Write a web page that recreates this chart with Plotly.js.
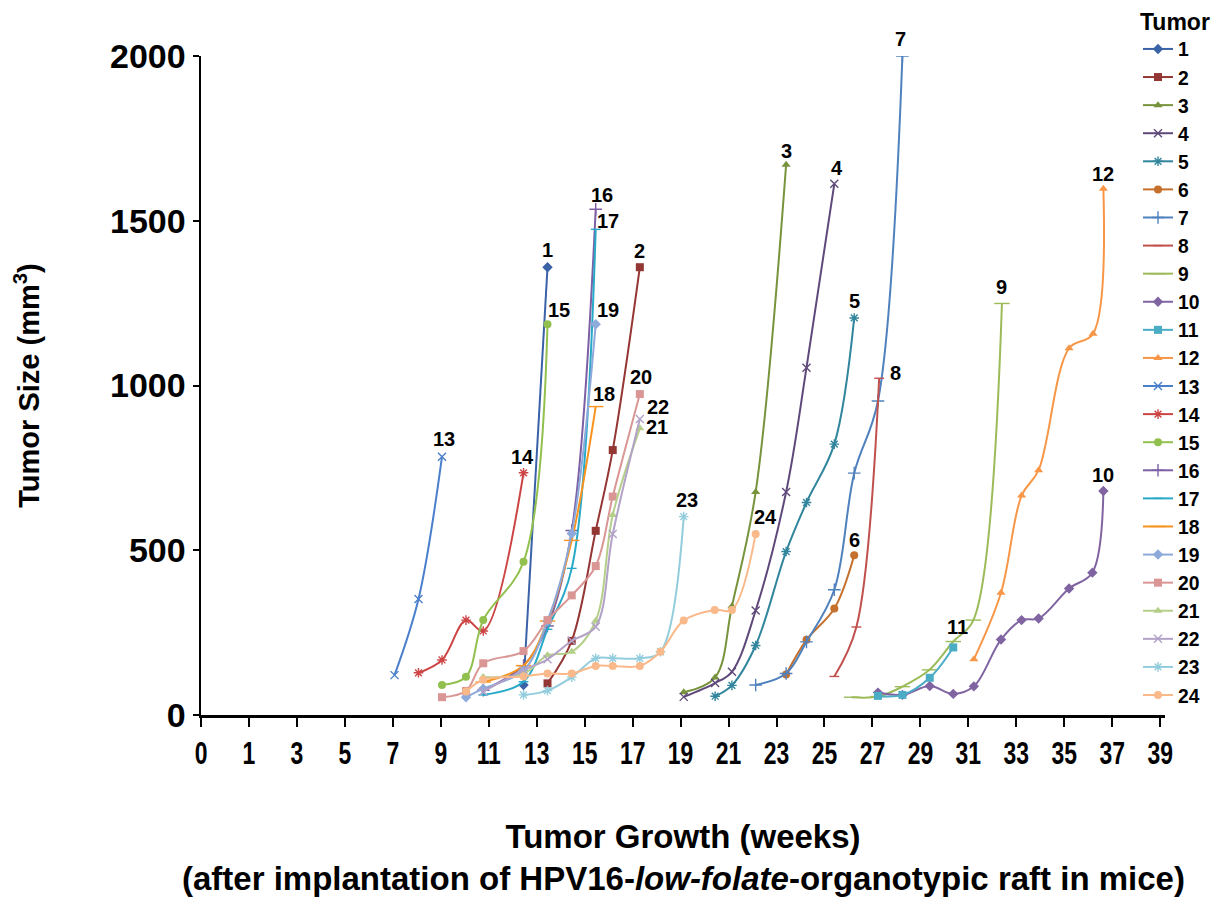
<!DOCTYPE html>
<html>
<head>
<meta charset="utf-8">
<script src="https://cdn.plot.ly/plotly-3.0.1.min.js"></script>
<style>html,body{margin:0;padding:0;background:#fff;}#chart{width:1232px;height:897px;}</style>
</head>
<body>
<div id="chart"></div>
<script>
// x tick positions (weeks) and the printed tick labels
const tickWeeks = [-1,1,3,5,7,9,11,13,15,17,19,21,23,25,27,29,31,33,35,37,39];
const tickLabels = ['0','1','3','5','7','9','11','13','15','17','19','21','23','25','27','29','31','33','35','37','39'];
const yTicks = [0, 500, 1000, 1500, 2000];

const tumorNames = ['1','2','3','4','5','6','7','8','9','10','11','12','13','14','15','16','17','18','19','20','21','22','23','24'];

const x1 = [12.45, 13.45];               const y1 = [91, 1359];
const x2 = [13.45, 14.46, 15.46, 16.17, 17.30]; const y2 = [96, 225, 559, 804, 1359];
const x3 = [19.13, 20.44, 21.14, 22.13, 23.40]; const y3 = [69, 114, 330, 677, 1670];
const x4 = [19.13, 20.44, 21.14, 22.13, 23.40, 24.25, 25.41]; const y4 = [55, 97, 131, 317, 677, 1054, 1612];
const x5 = [20.44, 21.14, 22.13, 23.40, 24.25, 25.41, 26.24]; const y5 = [57, 90, 211, 496, 645, 822, 1205];
const x6 = [23.40, 24.25, 25.41, 26.24];  const y6 = [123, 228, 323, 485];
const x7 = [22.13, 23.40, 24.25, 25.41, 26.24, 27.23, 28.25]; const y7 = [91, 126, 222, 380, 734, 953, 2000];
const x8 = [25.41, 26.33, 27.28];         const y8 = [117, 267, 1022];
const x9 = [26.13, 27.23, 28.25, 29.38, 30.37, 31.21, 32.40]; const y9 = [54, 56, 86, 137, 223, 288, 1249];
const x10 = [27.23, 28.25, 29.39, 30.37, 31.23, 32.36, 33.22, 33.93, 35.20, 36.17, 36.63];
const y10 = [68, 61, 88, 64, 87, 229, 288, 293, 384, 432, 680];
const x11 = [27.23, 28.25, 29.39, 30.37];  const y11 = [58, 61, 113, 205];
const x12 = [31.23, 32.36, 33.22, 33.93, 35.20, 36.20, 36.63]; const y12 = [169, 371, 666, 743, 1113, 1157, 1597];
const x13 = [7.07, 8.07, 9.05];            const y13 = [121, 352, 784];
const x14 = [8.07, 9.05, 10.05, 10.77, 12.45]; const y14 = [128, 167, 288, 255, 735];
const x15 = [9.05, 10.05, 10.77, 12.45, 13.45]; const y15 = [91, 116, 288, 465, 1186];
const x16 = [10.77, 12.45, 13.45, 14.46, 15.46]; const y16 = [75, 150, 270, 560, 1535];
const x17 = [10.77, 12.45, 13.45, 14.46, 15.46]; const y17 = [61, 101, 260, 445, 1474];
const x18 = [10.77, 12.45, 13.45, 14.46, 15.46]; const y18 = [100, 150, 285, 530, 936];
const x19 = [10.05, 10.77, 12.45, 13.45, 14.46, 15.46]; const y19 = [54, 80, 135, 285, 551, 1186];
const x20 = [9.05, 10.05, 10.77, 12.45, 13.45, 14.46, 15.46, 16.17, 17.30];
const y20 = [54, 73, 157, 194, 288, 363, 452, 663, 974];
const x21 = [10.77, 12.45, 13.45, 14.46, 15.46, 16.17, 17.30]; const y21 = [115, 125, 181, 192, 286, 607, 870];
const x22 = [10.77, 12.45, 13.45, 14.46, 15.46, 16.17, 17.30]; const y22 = [71, 136, 169, 225, 268, 549, 898];
const x23 = [12.45, 13.45, 14.46, 15.46, 16.17, 17.30, 18.16, 19.13]; const y23 = [61, 74, 115, 172, 172, 172, 192, 602];
const x24 = [10.05, 10.77, 12.45, 13.45, 14.46, 15.46, 16.17, 17.30, 18.16, 19.13, 20.42, 21.14, 22.13];
const y24 = [71, 107, 117, 126, 126, 149, 149, 149, 192, 287, 319, 319, 549];

const xs = [x1,x2,x3,x4,x5,x6,x7,x8,x9,x10,x11,x12,x13,x14,x15,x16,x17,x18,x19,x20,x21,x22,x23,x24];
const ys = [y1,y2,y3,y4,y5,y6,y7,y8,y9,y10,y11,y12,y13,y14,y15,y16,y17,y18,y19,y20,y21,y22,y23,y24];

const colors = ['#3A62A7','#943634','#77933C','#5F497A','#31859C','#C5702C',
                '#4F81BD','#C0504D','#9BBB59','#8064A2','#4BACC6','#F79646',
                '#4A7FCC','#CC4444','#92C04E','#7D5FA5','#28A9C8','#F7931E',
                '#8EAADB','#D99694','#B5CF8A','#B3A2C7','#93CDDD','#FAB98A'];
// Excel marker cycle: diamond, square, triangle, x, star, circle, plus, short dash, long dash
const symbols = ['diamond','square','triangle-up','x-thin-open','asterisk-open','circle','cross-thin-open','line-ew-open','line-ew-open'];
const msizes = [8,8,8,8,8,8,9,7,11];

// label offsets (pixels) of the tumour numbers relative to each series' last point
const labelDX = [0,0,0,3,0,0,-2,16,0,0,4,0,2,-1,11,6,12,8,12,1,17,18,3,10];
const labelDY = [17,16,14,16,17,15,17,5,16,16,20,15,18,16,14,14,8,13,14,17,1,12,17,17];

const FONT = 'Liberation Sans, Arial, Helvetica, sans-serif';
const traces = [];
const annotations = [];
for (let i = 0; i < tumorNames.length; i++) {
  const s = i % 9;
  const open = symbols[s].indexOf('open') >= 0;
  traces.push({
    type: 'scatter', mode: 'lines+markers', name: tumorNames[i],
    x: xs[i], y: ys[i],
    line: {color: colors[i], width: 2, shape: 'spline', smoothing: 1},
    marker: {symbol: symbols[s], size: msizes[s], color: colors[i],
             line: {color: colors[i], width: open ? 1.4 : 0}},
    hoverinfo: 'x+y+name'
  });
  const n = xs[i].length - 1;
  annotations.push({
    x: xs[i][n], y: ys[i][n], xref: 'x', yref: 'y', text: '<b>' + tumorNames[i] + '</b>',
    showarrow: false, xshift: labelDX[i], yshift: labelDY[i],
    font: {family: FONT, size: 20, color: '#000'}
  });
}
annotations.push({
  xref: 'paper', yref: 'paper', x: 0.5, y: 0, yshift: -163, xanchor: 'center', yanchor: 'middle',
  showarrow: false,
  text: '<b>(after implantation of HPV16-<i>low-folate</i>-organotypic raft in mice)</b>',
  font: {family: FONT, size: 33, color: '#000'}
});

const layout = {
  width: 1232, height: 897,
  margin: {l: 201, r: 67, t: 56, b: 182, autoexpand: false},
  paper_bgcolor: '#fff', plot_bgcolor: '#fff',
  showlegend: true,
  legend: {
    xref: 'container', yref: 'container',
    x: 0.9237, y: 1.0096, xanchor: 'left', yanchor: 'top',
    bgcolor: 'rgba(0,0,0,0)', maxheight: 897,
    title: {text: '<b>Tumor</b>', side: 'top', font: {family: FONT, size: 23, color: '#000'}},
    font: {family: FONT, size: 19.3, color: '#000', weight: 'bold'},
    tracegroupgap: 0, itemwidth: 30
  },
  xaxis: {
    range: [-1, 39.2], tickmode: 'array', tickvals: tickWeeks, ticktext: tickLabels,
    showline: true, linecolor: '#000', linewidth: 2.5, mirror: false,
    ticks: 'outside', ticklen: 9, tickwidth: 2, tickcolor: '#000',
    showgrid: false, zeroline: false,
    tickfont: {family: FONT, size: 31, color: '#000', weight: 'bold'},
    title: {text: '<b>Tumor Growth (weeks)</b>', standoff: 55,
            font: {family: FONT, size: 33, color: '#000'}}
  },
  yaxis: {
    range: [0, 2000], tickmode: 'array', tickvals: yTicks,
    ticktext: yTicks.map(String),
    showline: true, linecolor: '#000', linewidth: 2.5,
    ticks: 'outside', ticklen: 6, tickwidth: 2, tickcolor: '#000',
    showgrid: false, zeroline: false,
    tickfont: {family: FONT, size: 34, color: '#000', weight: 'bold'},
    title: {text: '<b>Tumor Size (mm<sup>3</sup>)</b>', standoff: 62,
            font: {family: FONT, size: 29, color: '#000'}}
  },
  annotations: annotations
};

Plotly.newPlot('chart', traces, layout, {displayModeBar: false, staticPlot: true}).then(function () {
  // the reference's x tick labels are a condensed face: squeeze them horizontally
  document.querySelectorAll('#chart .xtick text').forEach(function (t) {
    const x = parseFloat(t.getAttribute('x') || '0');
    const tr = t.getAttribute('transform') || '';
    t.setAttribute('transform', tr + ' translate(' + x + ',0) scale(0.74,1) translate(' + (-x) + ',0)');
  });
});
</script>
</body>
</html>
